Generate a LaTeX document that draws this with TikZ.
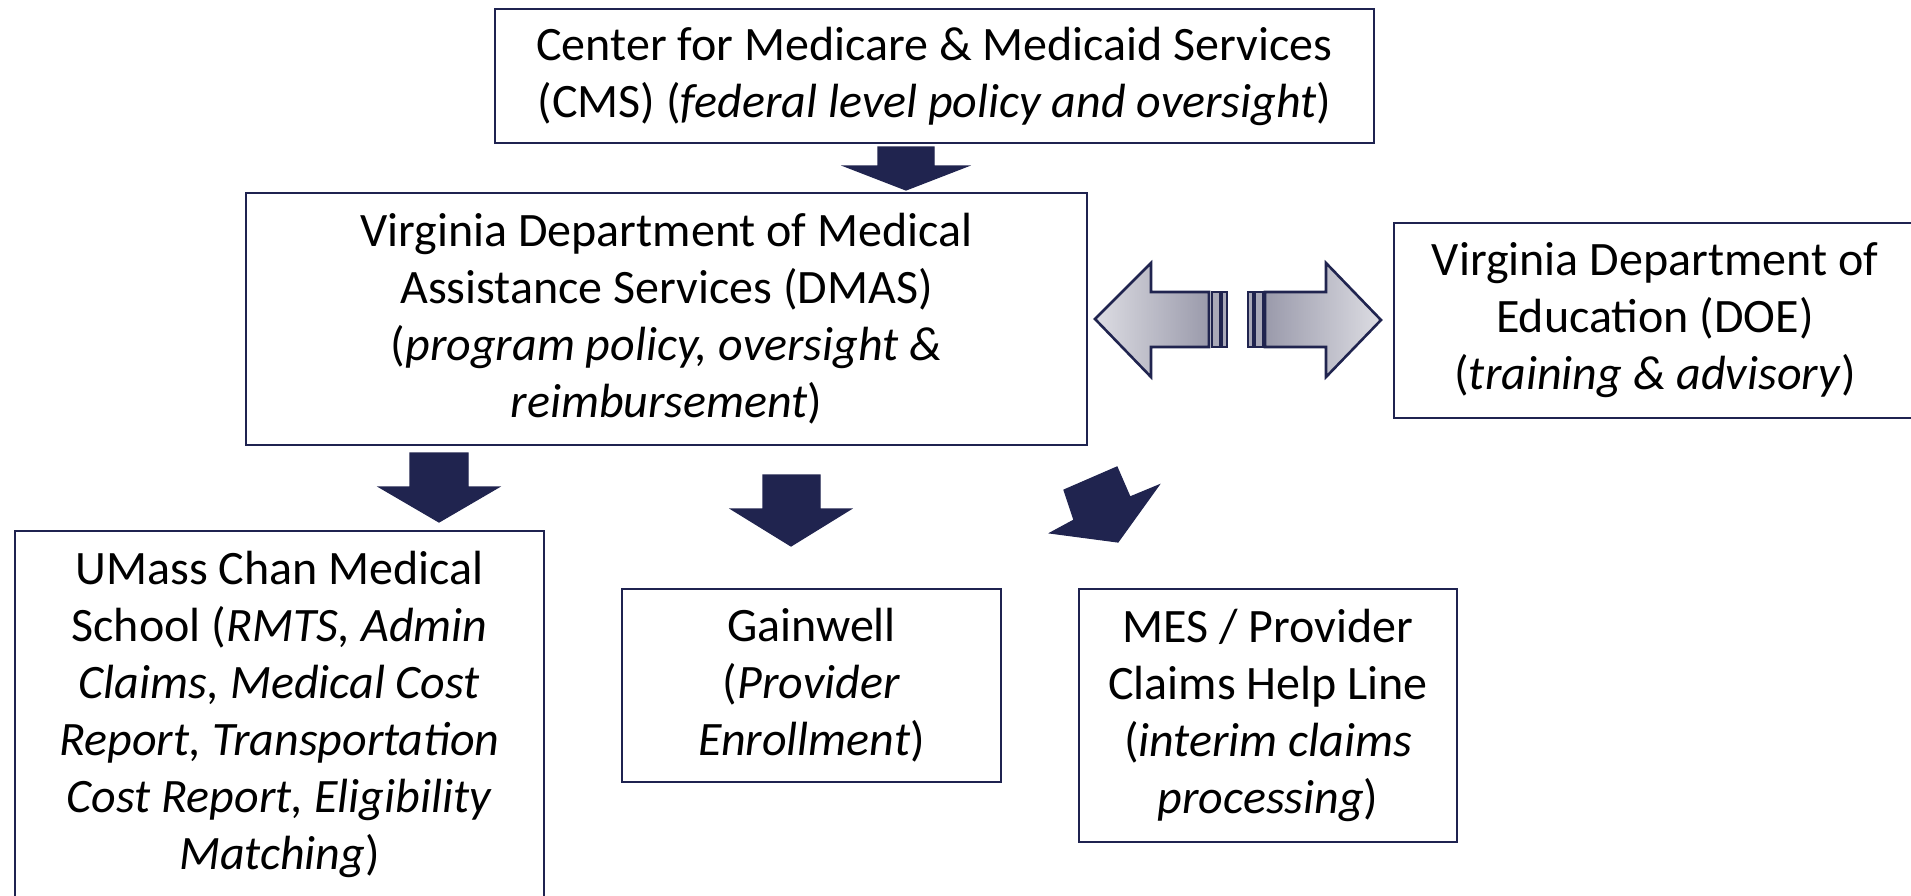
\documentclass[tikz,border=0pt]{standalone}
\usepackage{fontspec}
\setmainfont{Carlito}
\definecolor{boxline}{HTML}{1F2350}
\definecolor{arrownavy}{HTML}{20244F}
\definecolor{shadelight}{HTML}{DDDDE3}
\definecolor{shadedark}{HTML}{9A9AAB}
\begin{document}
\begin{tikzpicture}[x=0.5pt,y=-0.5pt,
  orgbox/.style={draw=boxline, line width=1.2pt, fill=white, inner sep=0pt,
    align=center, font=\fontsize{24}{28.5}\selectfont},
  blockarrow/.style={fill=arrownavy, draw=arrownavy, line width=0.6pt, line join=miter},
  linkarrow/.style={draw=arrownavy, line width=1.3pt, line join=miter},
  stripe/.style={draw=arrownavy, line width=1.1pt, fill=shadedark!85!white}]
\useasboundingbox (0,0) rectangle (1911,895);

% organisation boxes
\node[orgbox, minimum width=439.5pt, minimum height=67pt] (cms) at (934.5,76)
  {Center for Medicare \& Medicaid Services\\(CMS) (\textit{federal level policy and oversight})};
\node[orgbox, minimum width=420.5pt, minimum height=126pt] (dmas) at (666.5,319)
  {Virginia Department of Medical\\Assistance Services (DMAS)\\(\textit{program policy, oversight \&}\\\textit{reimbursement})};
\node[orgbox, minimum width=261pt, minimum height=97.5pt] (doe) at (1655,320.5)
  {Virginia Department of\\Education (DOE)\\(\textit{training \& advisory})};
\node[orgbox, minimum width=264.5pt, minimum height=183pt] (umass) at (279.5,714)
  {UMass Chan Medical\\School (\textit{RMTS, Admin}\\\textit{Claims, Medical Cost}\\\textit{Report, Transportation}\\\textit{Cost Report, Eligibility}\\\textit{Matching})};
\node[orgbox, minimum width=189.5pt, minimum height=96.5pt] (gain) at (811.5,685.5)
  {Gainwell\\(\textit{Provider}\\\textit{Enrollment})};
\node[orgbox, minimum width=189pt, minimum height=126.5pt] (mes) at (1268,715.5)
  {MES / Provider\\Claims Help Line\\(\textit{interim claims}\\\textit{processing})};

% block arrows down the hierarchy
\filldraw[blockarrow] (878,147) -- (934,147) -- (934,166) -- (968,166) -- (906,190)
  -- (844,166) -- (878,166) -- cycle;
\filldraw[blockarrow] (410,453) -- (468,453) -- (468,487) -- (499,487) -- (439,522)
  -- (379,487) -- (410,487) -- cycle;
\filldraw[blockarrow] (763,475) -- (820,475) -- (820,509) -- (851,509) -- (791,546)
  -- (731,509) -- (763,509) -- cycle;
\filldraw[blockarrow] (1064,490) -- (1117,467) -- (1130,497) -- (1159,485) -- (1118,542)
  -- (1050,533) -- (1074,520) -- cycle;

% striped two-way arrow between DMAS and DOE
\shadedraw[linkarrow, left color=shadelight, right color=shadedark]
  (1095,319) -- (1151,263) -- (1151,292) -- (1209,292) -- (1209,347)
  -- (1151,347) -- (1151,377) -- cycle;
\draw[stripe] (1212,292) rectangle (1220,347);
\draw[stripe] (1222,292) rectangle (1227,347);
\shadedraw[linkarrow, left color=shadedark, right color=shadelight]
  (1381,320) -- (1326,263) -- (1326,292) -- (1265,292) -- (1265,347)
  -- (1326,347) -- (1326,377) -- cycle;
\draw[stripe] (1248,292) rectangle (1253,347);
\draw[stripe] (1255,292) rectangle (1263,347);
\end{tikzpicture}
\end{document}
